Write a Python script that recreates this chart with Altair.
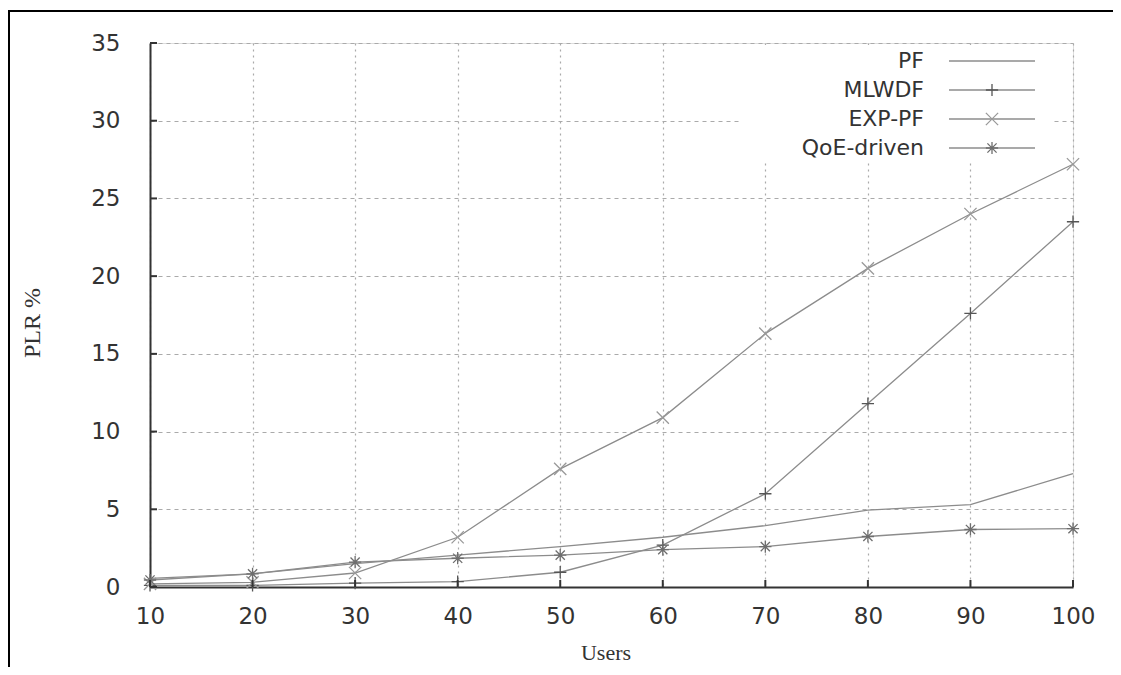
import altair as alt
import pandas as pd

users = [10, 20, 30, 40, 50, 60, 70, 80, 90, 100]
series_names = ["PF", "MLWDF", "EXP-PF", "QoE-driven"]
pf = [0.55, 0.85, 1.5, 2.05, 2.6, 3.2, 3.95, 4.95, 5.3, 7.3]
mlwdf = [0.1, 0.1, 0.25, 0.35, 0.95, 2.7, 6.0, 11.8, 17.6, 23.5]
exppf = [0.2, 0.3, 0.9, 3.2, 7.6, 10.9, 16.3, 20.5, 24.0, 27.2]
qoe = [0.45, 0.85, 1.6, 1.85, 2.05, 2.4, 2.6, 3.25, 3.7, 3.75]
y_ticks = [0, 5, 10, 15, 20, 25, 30, 35]

rows = []
for name, vals in zip(series_names, [pf, mlwdf, exppf, qoe]):
    for u, v in zip(users, vals):
        rows.append({"users": u, "plr": v, "series": name})
df = pd.DataFrame(rows)

W, H = 923, 544
LINE = "#8c8c8c"
TXT = "#333333"

PLUS = "M-1,0H1M0,-1V1"
XSH = "M-1,-1L1,1M-1,1L1,-1"
AST = "M-1,0H1M0,-1V1M-0.75,-0.75L0.75,0.75M-0.75,0.75L0.75,-0.75"
shape_for = {"MLWDF": PLUS, "EXP-PF": XSH, "QoE-driven": AST}
mcolor = {"MLWDF": "#555555", "EXP-PF": "#999999", "QoE-driven": "#6e6e6e"}

xs = alt.Scale(domain=[10, 100], nice=False, zero=False)
ys = alt.Scale(domain=[0, 35], nice=False)

base = alt.Chart(df)

lines = base.mark_line(strokeWidth=1.3, color=LINE).encode(
    x=alt.X("users:Q", scale=xs,
            axis=alt.Axis(values=users, title=None, ticks=False, tickSize=0,
                          labelPadding=18, gridDash=[2, 4], gridColor="#aaaaaa",
                          gridWidth=1.2, domainColor="#333333", domainWidth=2,
                          labelFont="DejaVu Sans", labelFontSize=23,
                          labelColor=TXT, labelFlush=False)),
    y=alt.Y("plr:Q", scale=ys,
            axis=alt.Axis(values=y_ticks, title=None, ticks=False, tickSize=0,
                          labelPadding=30, gridDash=[4, 4], gridColor="#aaaaaa",
                          gridWidth=1.2, domainColor="#333333", domainWidth=2,
                          labelFont="DejaVu Sans", labelFontSize=23,
                          labelColor=TXT)),
    detail="series:N",
)

layers = [lines]
for name in series_names[1:]:
    layers.append(
        base.transform_filter(alt.datum.series == name)
        .mark_point(shape=shape_for[name], size=150, filled=False,
                    strokeWidth=1.3, color=mcolor[name], opacity=1)
        .encode(x=alt.X("users:Q", scale=xs), y=alt.Y("plr:Q", scale=ys))
    )

# inward ticks
xt = alt.Chart(pd.DataFrame({"t": users})).mark_rule(color="#333333", strokeWidth=2).encode(
    x=alt.X("t:Q", scale=xs), y=alt.value(H), y2=alt.value(H - 7))
yt = alt.Chart(pd.DataFrame({"t": y_ticks})).mark_rule(color="#333333", strokeWidth=2).encode(
    y=alt.Y("t:Q", scale=ys), x=alt.value(0), x2=alt.value(7))
layers += [xt, yt]

# legend box
one = alt.Data(values=[{"a": 1}])
box = alt.Chart(one).mark_rect(fill="white").encode(
    x=alt.value(590), x2=alt.value(902), y=alt.value(2), y2=alt.value(120))
layers.append(box)

for i, name in enumerate(series_names):
    yy = 18 + 29 * i
    d = alt.Data(values=[{"s": name}])
    layers.append(alt.Chart(d).mark_text(align="right", baseline="middle",
                                         font="DejaVu Sans", fontSize=22,
                                         color=TXT).encode(
        text="s:N", x=alt.value(774), y=alt.value(yy)))
    layers.append(alt.Chart(d).mark_rule(color=LINE, strokeWidth=1.3).encode(
        x=alt.value(799), x2=alt.value(885), y=alt.value(yy)))
    if name in shape_for:
        layers.append(alt.Chart(d).mark_point(shape=shape_for[name], size=150,
                                              filled=False, strokeWidth=1.3,
                                              color=mcolor[name], opacity=1).encode(
            x=alt.value(842), y=alt.value(yy)))

# axis titles
layers.append(alt.Chart(one).mark_text(font="Liberation Serif", fontSize=24,
                                       angle=270, color=TXT,
                                       baseline="middle", align="center").encode(
    text=alt.value("PLR %"), x=alt.value(-117), y=alt.value(280)))
layers.append(alt.Chart(one).mark_text(font="Liberation Serif", fontSize=22,
                                       color=TXT,
                                       baseline="middle", align="center").encode(
    text=alt.value("Users"), x=alt.value(456), y=alt.value(H + 66)))

# frame lines
layers.append(alt.Chart(one).mark_rule(color="black", strokeWidth=2).encode(
    x=alt.value(-142), x2=alt.value(980), y=alt.value(-32)))
layers.append(alt.Chart(one).mark_rule(color="black", strokeWidth=2).encode(
    x=alt.value(-141), y=alt.value(-33), y2=alt.value(640)))

chart = alt.layer(*layers).properties(
    width=W, height=H,
    autosize=alt.AutoSizeParams(type="none"),
    padding={"left": 142, "top": 35, "right": 40, "bottom": 80},
).configure_view(stroke=None).configure(background="white")

chart.save("out.html", embed_options={"renderer": "svg", "actions": False})
